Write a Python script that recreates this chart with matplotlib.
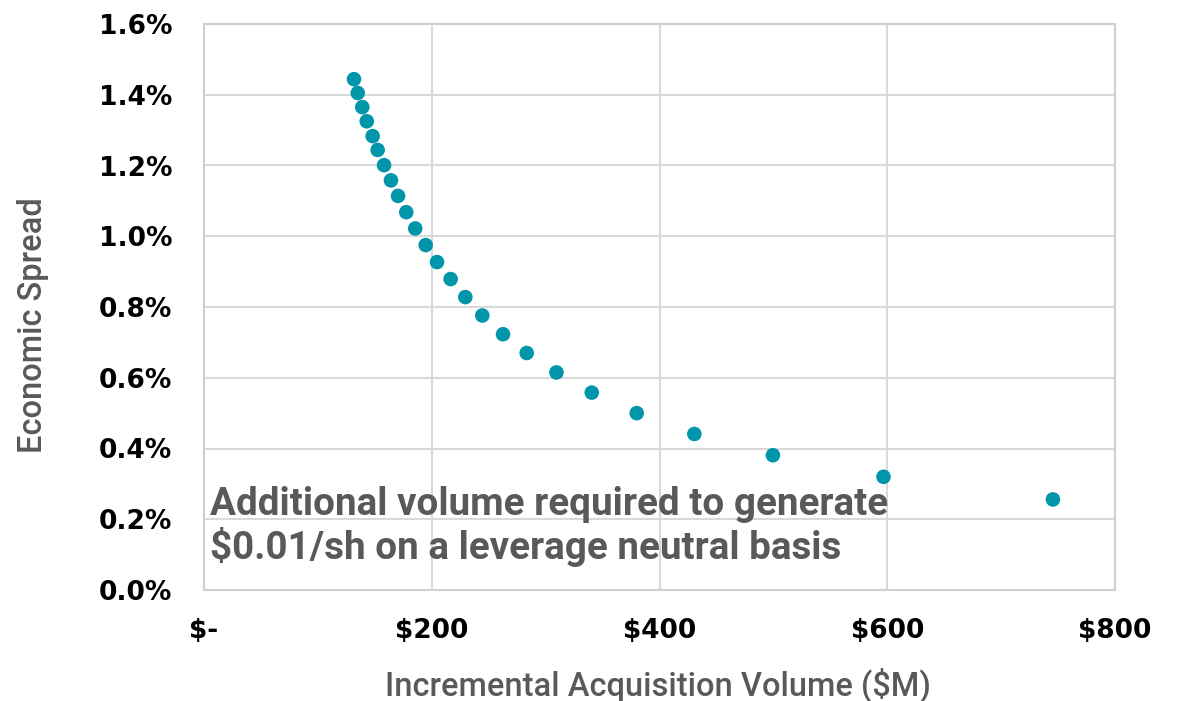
import matplotlib
matplotlib.use("Agg")
import matplotlib.pyplot as plt
from matplotlib.ticker import FuncFormatter, MultipleLocator

# Incremental acquisition volume ($M) vs. economic spread (%)
volume_musd = [131.7, 135.0, 139.0, 142.9, 148.1, 152.5, 158.1, 164.2, 170.4,
               177.6, 185.5, 194.7, 204.6, 216.6, 229.5, 244.4, 262.6, 283.4,
               309.5, 340.5, 380.0, 430.6, 499.6, 596.7, 745.5]
spread_pct = [1.444, 1.405, 1.365, 1.325, 1.283, 1.244, 1.201, 1.158, 1.114,
              1.068, 1.022, 0.975, 0.927, 0.879, 0.828, 0.776, 0.723, 0.670,
              0.615, 0.558, 0.500, 0.441, 0.381, 0.320, 0.256]

x_label = "Incremental Acquisition Volume ($M)"
y_label = "Economic Spread"
note = "Additional volume required to generate\n$0.01/sh on a leverage neutral basis"

label_font = ["Roboto", "DejaVu Sans"]
tick_font = ["DejaVu Sans"]
gray_text = "#595959"
teal = "#0095A9"

fig = plt.figure(figsize=(11.78, 7.01), dpi=100)
ax = fig.add_axes([204 / 1178, 1 - 590 / 701, (1115 - 204) / 1178, (590 - 24) / 701])

ax.scatter(volume_musd, spread_pct, s=110, color=teal, edgecolors="none", zorder=3)

ax.set_xlim(0, 800)
ax.set_ylim(0, 1.6)
ax.xaxis.set_major_locator(MultipleLocator(200))
ax.yaxis.set_major_locator(MultipleLocator(0.2))
ax.xaxis.set_major_formatter(FuncFormatter(lambda v, _: "$-" if v == 0 else f"${v:.0f}"))
ax.yaxis.set_major_formatter(FuncFormatter(lambda v, _: f"{v:.1f}%"))

ax.grid(True, color="#D9D9D9", linewidth=1.5, zorder=0)
ax.set_axisbelow(True)
for side, sp in ax.spines.items():
    sp.set_color("#D0D0D0")
    sp.set_linewidth(1.5)

ax.tick_params(axis="both", length=0, labelsize=19, labelcolor="black")
ax.tick_params(axis="y", pad=23)
ax.tick_params(axis="x", pad=20)
for lbl in ax.get_xticklabels() + ax.get_yticklabels():
    lbl.set_fontweight("heavy")
    lbl.set_family(tick_font)

fig.text(658 / 1178, 1 - 685 / 701, x_label, ha="center", va="center",
         fontsize=23.5, color=gray_text, family=label_font, fontweight="medium")
fig.text(33 / 1178, 1 - 325 / 701, y_label, ha="center", va="center",
         rotation=90, fontsize=23.5, color=gray_text, family=label_font,
         fontweight="medium")

fig.text(210 / 1178, 1 - 486 / 701, note, ha="left", va="top",
         fontsize=27.8, color=gray_text, family=label_font, fontweight="bold",
         linespacing=1.12)

fig.savefig("out.png", dpi=100)
